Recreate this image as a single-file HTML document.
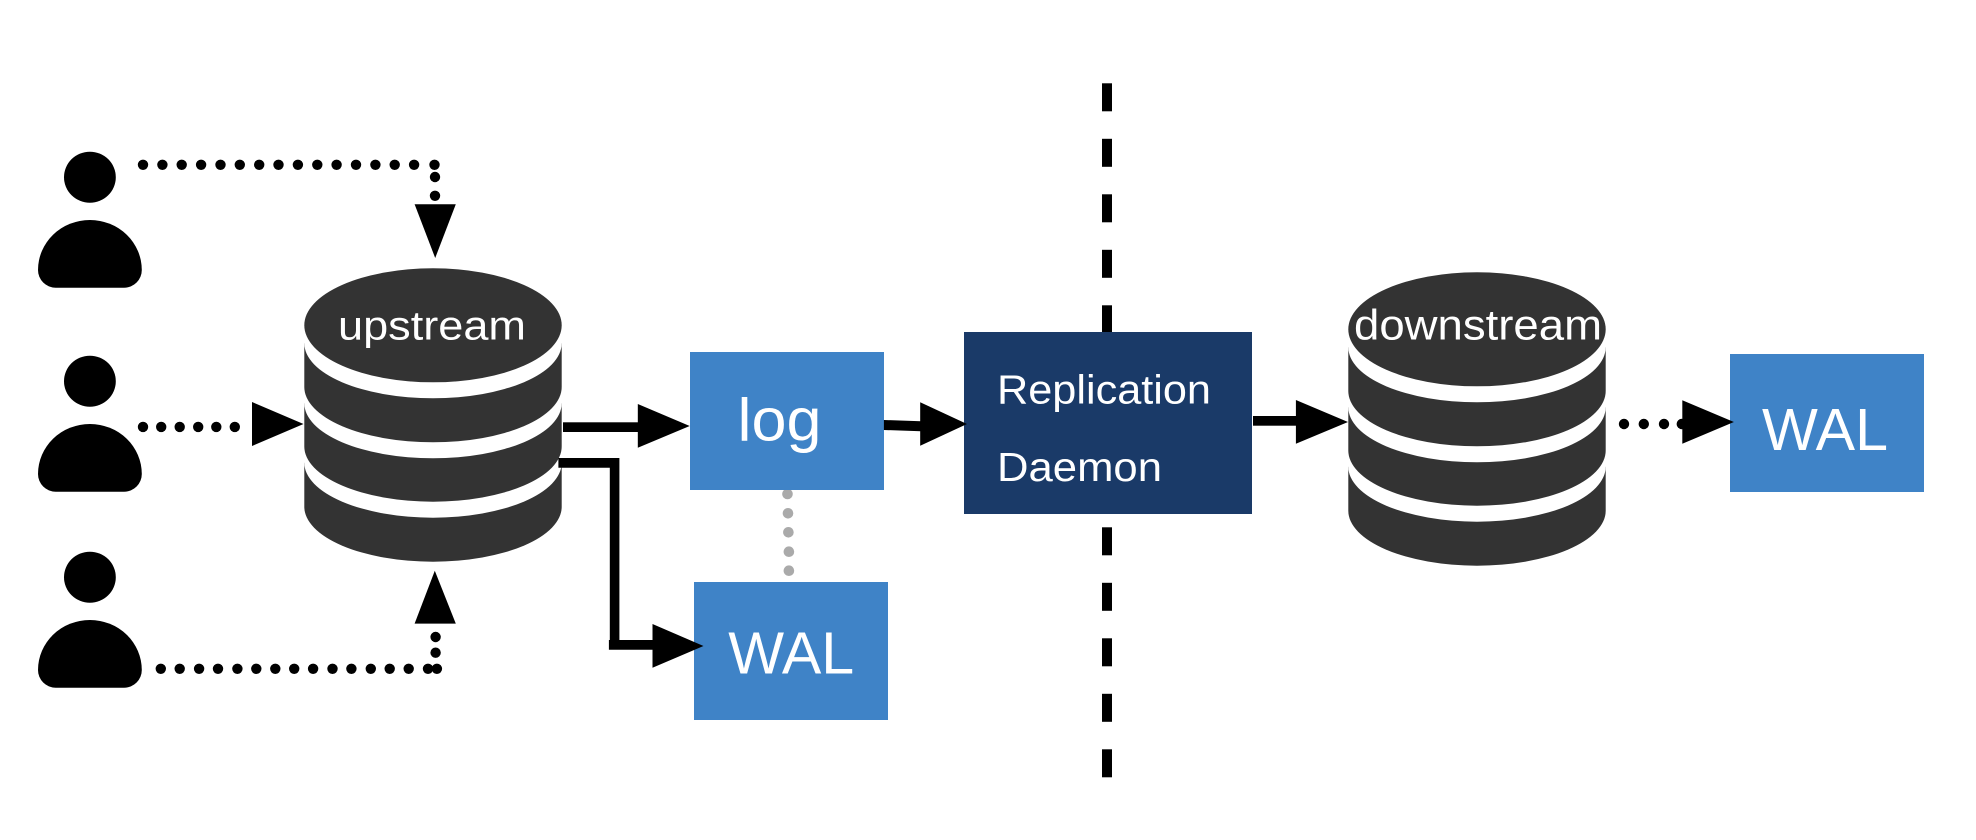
<!DOCTYPE html>
<html>
<head>
<meta charset="utf-8">
<style>
html,body{margin:0;padding:0;background:#fff;width:1976px;height:840px;overflow:hidden}
svg{display:block}
text{font-family:"Liberation Sans",sans-serif;fill:#fff}
</style>
</head>
<body>
<svg width="1976" height="840" viewBox="0 0 1976 840" xmlns="http://www.w3.org/2000/svg">
<rect width="1976" height="840" fill="#fff"/>

<!-- vertical dashed line -->
<g fill="#000">
<rect x="1102" y="83.3" width="10" height="28"/>
<rect x="1102" y="138.8" width="10" height="28"/>
<rect x="1102" y="194.3" width="10" height="28"/>
<rect x="1102" y="249.8" width="10" height="28"/>
<rect x="1102" y="305.3" width="10" height="28"/>
<rect x="1102" y="527.3" width="10" height="28"/>
<rect x="1102" y="582.8" width="10" height="28"/>
<rect x="1102" y="638.3" width="10" height="28"/>
<rect x="1102" y="693.8" width="10" height="28"/>
<rect x="1102" y="749.3" width="10" height="28"/>
</g>

<!-- persons -->
<g fill="#000">
<g>
<ellipse cx="89.9" cy="177.2" rx="25.9" ry="25.5"/>
<path d="M38 270 A51.9 50 0 0 1 141.8 270 A17.7 17.7 0 0 1 124.1 287.7 H55.7 A17.7 17.7 0 0 1 38 270 Z"/>
</g>
<g transform="translate(0,204)">
<ellipse cx="89.9" cy="177.2" rx="25.9" ry="25.5"/>
<path d="M38 270 A51.9 50 0 0 1 141.8 270 A17.7 17.7 0 0 1 124.1 287.7 H55.7 A17.7 17.7 0 0 1 38 270 Z"/>
</g>
<g transform="translate(0,400)">
<ellipse cx="89.9" cy="177.2" rx="25.9" ry="25.5"/>
<path d="M38 270 A51.9 50 0 0 1 141.8 270 A17.7 17.7 0 0 1 124.1 287.7 H55.7 A17.7 17.7 0 0 1 38 270 Z"/>
</g>
</g>

<!-- dotted connectors -->
<g fill="#000">
<circle cx="143" cy="164.8" r="5.2"/><circle cx="162.4" cy="164.8" r="5.2"/><circle cx="181.7" cy="164.8" r="5.2"/><circle cx="201.1" cy="164.8" r="5.2"/><circle cx="220.5" cy="164.8" r="5.2"/><circle cx="239.8" cy="164.8" r="5.2"/><circle cx="259.2" cy="164.8" r="5.2"/><circle cx="278.5" cy="164.8" r="5.2"/><circle cx="297.9" cy="164.8" r="5.2"/><circle cx="317.3" cy="164.8" r="5.2"/><circle cx="336.6" cy="164.8" r="5.2"/><circle cx="356" cy="164.8" r="5.2"/><circle cx="375.4" cy="164.8" r="5.2"/><circle cx="394.7" cy="164.8" r="5.2"/><circle cx="414.1" cy="164.8" r="5.2"/>
<circle cx="434.5" cy="164.8" r="5.2"/><circle cx="435" cy="177" r="5.2"/><circle cx="435" cy="195.8" r="5.2"/>

<circle cx="143" cy="426.9" r="5.2"/><circle cx="161.2" cy="426.9" r="5.2"/><circle cx="179.7" cy="426.9" r="5.2"/><circle cx="198.2" cy="426.9" r="5.2"/><circle cx="216.3" cy="426.9" r="5.2"/><circle cx="234.8" cy="426.9" r="5.2"/>

<circle cx="160.8" cy="668.8" r="5.2"/><circle cx="179.7" cy="668.8" r="5.2"/><circle cx="199.1" cy="668.8" r="5.2"/><circle cx="218" cy="668.8" r="5.2"/><circle cx="237.4" cy="668.8" r="5.2"/><circle cx="256.3" cy="668.8" r="5.2"/><circle cx="275.3" cy="668.8" r="5.2"/><circle cx="294.2" cy="668.8" r="5.2"/><circle cx="313.1" cy="668.8" r="5.2"/><circle cx="332.5" cy="668.8" r="5.2"/><circle cx="351.4" cy="668.8" r="5.2"/><circle cx="370.8" cy="668.8" r="5.2"/><circle cx="389.7" cy="668.8" r="5.2"/><circle cx="408.7" cy="668.8" r="5.2"/><circle cx="428" cy="668.8" r="5.2"/><circle cx="436.9" cy="668.8" r="5.2"/>
<circle cx="435.6" cy="637" r="5.2"/><circle cx="435.6" cy="652.7" r="5.2"/>

<circle cx="1624" cy="424" r="5.2"/><circle cx="1643.8" cy="424" r="5.2"/><circle cx="1664" cy="424" r="5.2"/><circle cx="1681.8" cy="424" r="5.2"/>
</g>

<!-- grey dots -->
<g fill="#aaaaaa">
<circle cx="787.5" cy="494" r="5.3"/><circle cx="788" cy="513.3" r="5.3"/><circle cx="788.4" cy="532.3" r="5.3"/><circle cx="788.9" cy="551.7" r="5.3"/><circle cx="788.9" cy="570.7" r="5.3"/>
</g>

<!-- boxes -->
<rect x="690" y="352" width="194" height="138" fill="#3f83c7"/>
<rect x="694" y="582" width="194" height="138" fill="#3f83c7"/>
<rect x="1730" y="354" width="194" height="138" fill="#3f83c7"/>
<rect x="964" y="332" width="288" height="182" fill="#1a3a68"/>

<!-- upstream cylinder -->
<g fill="#333333">
<path d="M304.3 462.7 H561.7 V506.7 A128.7 55 0 0 0 304.3 506.7 Z" transform="translate(0,0)" fill="none"/>
<path d="M304.3 462.7 H561.7 V506.7 A128.7 55 0 0 1 304.3 506.7 Z"/>
<ellipse cx="433" cy="462.7" rx="128.7" ry="55" fill="#fff"/>
<path d="M304.3 403.3 H561.7 V446.5 A128.7 55.2 0 0 1 304.3 446.5 Z"/>
<ellipse cx="433" cy="403.3" rx="128.7" ry="55" fill="#fff"/>
<path d="M304.3 343.3 H561.7 V387 A128.7 55.3 0 0 1 304.3 387 Z"/>
<ellipse cx="433" cy="343.3" rx="128.7" ry="55" fill="#fff"/>
<ellipse cx="433" cy="325.3" rx="128.7" ry="57"/>
</g>

<!-- downstream cylinder -->
<g transform="translate(1044,4)" fill="#333333">
<path d="M304.3 462.7 H561.7 V506.7 A128.7 55 0 0 1 304.3 506.7 Z"/>
<ellipse cx="433" cy="462.7" rx="128.7" ry="55" fill="#fff"/>
<path d="M304.3 403.3 H561.7 V446.5 A128.7 55.2 0 0 1 304.3 446.5 Z"/>
<ellipse cx="433" cy="403.3" rx="128.7" ry="55" fill="#fff"/>
<path d="M304.3 343.3 H561.7 V387 A128.7 55.3 0 0 1 304.3 387 Z"/>
<ellipse cx="433" cy="343.3" rx="128.7" ry="55" fill="#fff"/>
<ellipse cx="433" cy="325.3" rx="128.7" ry="57"/>
</g>

<!-- solid connectors -->
<g fill="#000">
<rect x="563" y="422.3" width="76" height="9.7"/>
<path d="M558.4 458 H619.4 V640 H652.5 V649.7 H608.9 V640 H609.8 V467.7 H558.4 Z"/>
<path d="M883.9 420 L921 421.3 V431.3 L883.9 430 Z"/>
<rect x="1253" y="416" width="44" height="9.7"/>
</g>

<!-- arrowheads -->
<g fill="#000">
<polygon points="414.6,204.2 455.8,204.2 435.2,258"/>
<polygon points="252,402 303.5,424 252,446"/>
<polygon points="414.6,623.6 455.8,623.6 434.8,570.8"/>
<polygon points="637.8,404 689.7,426 637.8,447.7"/>
<polygon points="652.5,624 703.5,646 652.5,667.7"/>
<polygon points="920.2,402.3 967,424 920.2,445.7"/>
<polygon points="1295.9,400 1348,422 1295.9,443.7"/>
<polygon points="1682.3,400.3 1733.9,422 1682.3,443.7"/>
</g>

<!-- labels -->
<text x="338" y="339.3" font-size="41" textLength="188" lengthAdjust="spacingAndGlyphs">upstream</text>
<text x="1354" y="339.3" font-size="43" textLength="248" lengthAdjust="spacingAndGlyphs">downstream</text>
<text x="737.5" y="440.7" font-size="60" textLength="84" lengthAdjust="spacingAndGlyphs">log</text>
<text x="728.2" y="673.3" font-size="59" textLength="126" lengthAdjust="spacingAndGlyphs">WAL</text>
<text x="1762" y="450" font-size="59" textLength="126" lengthAdjust="spacingAndGlyphs">WAL</text>
<text x="997" y="403.3" font-size="41" textLength="214" lengthAdjust="spacingAndGlyphs">Replication</text>
<text x="997" y="481" font-size="41" textLength="165" lengthAdjust="spacingAndGlyphs">Daemon</text>
</svg>
</body>
</html>
